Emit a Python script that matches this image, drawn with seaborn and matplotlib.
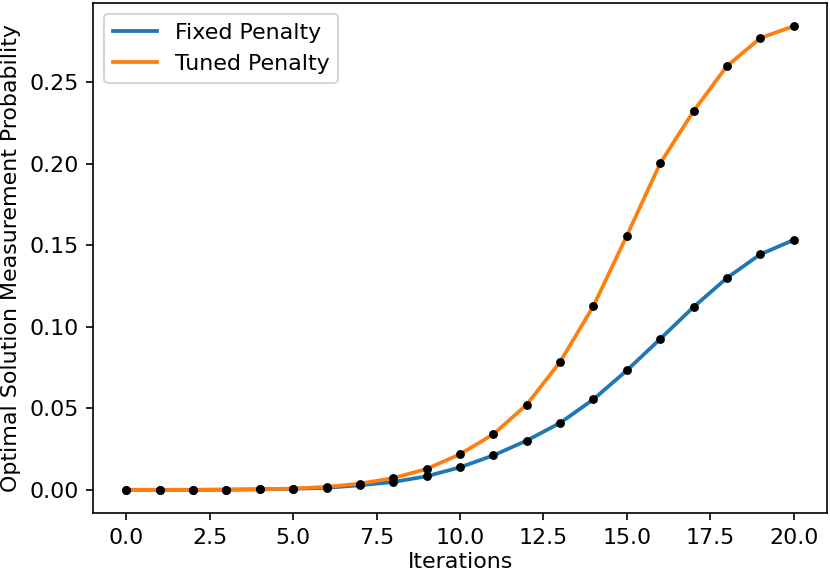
import matplotlib
matplotlib.use("Agg")
import matplotlib.pyplot as plt
import seaborn as sns
import pandas as pd

iterations = list(range(21))
fixed_penalty = [0.0, 0.0, 0.0, 0.0001, 0.0003, 0.0006, 0.0012, 0.0028, 0.0048, 0.0083,
                 0.0138, 0.0211, 0.0302, 0.0410, 0.0555, 0.0732, 0.0925, 0.1121,
                 0.1299, 0.1444, 0.1532]
tuned_penalty = [0.0, 0.0, 0.0, 0.0001, 0.0003, 0.0008, 0.0018, 0.0038, 0.0072, 0.0128,
                 0.0218, 0.0341, 0.0522, 0.0784, 0.1127, 0.1558, 0.2002, 0.2322,
                 0.2598, 0.2770, 0.2843]

df = pd.DataFrame({
    "Iterations": iterations * 2,
    "prob": fixed_penalty + tuned_penalty,
    "method": ["Fixed Penalty"] * 21 + ["Tuned Penalty"] * 21,
})

plt.rcParams["font.size"] = 10.6
fig, ax = plt.subplots(figsize=(830 / 150, 579 / 150), dpi=150)
fig.subplots_adjust(left=93 / 830, right=827 / 830, bottom=1 - 513 / 579, top=1 - 3 / 579)

sns.lineplot(data=df, x="Iterations", y="prob", hue="method",
             palette=["#1f77b4", "#ff7f0e"], linewidth=1.8, ax=ax)
sns.scatterplot(data=df, x="Iterations", y="prob", color="black", s=18,
                linewidth=0, zorder=3, legend=False, ax=ax)

ax.legend(loc="upper left")
ax.set_xlabel("Iterations", labelpad=2)
ax.set_ylabel("Optimal Solution Measurement Probability")

plt.savefig("out.png", dpi=150)
